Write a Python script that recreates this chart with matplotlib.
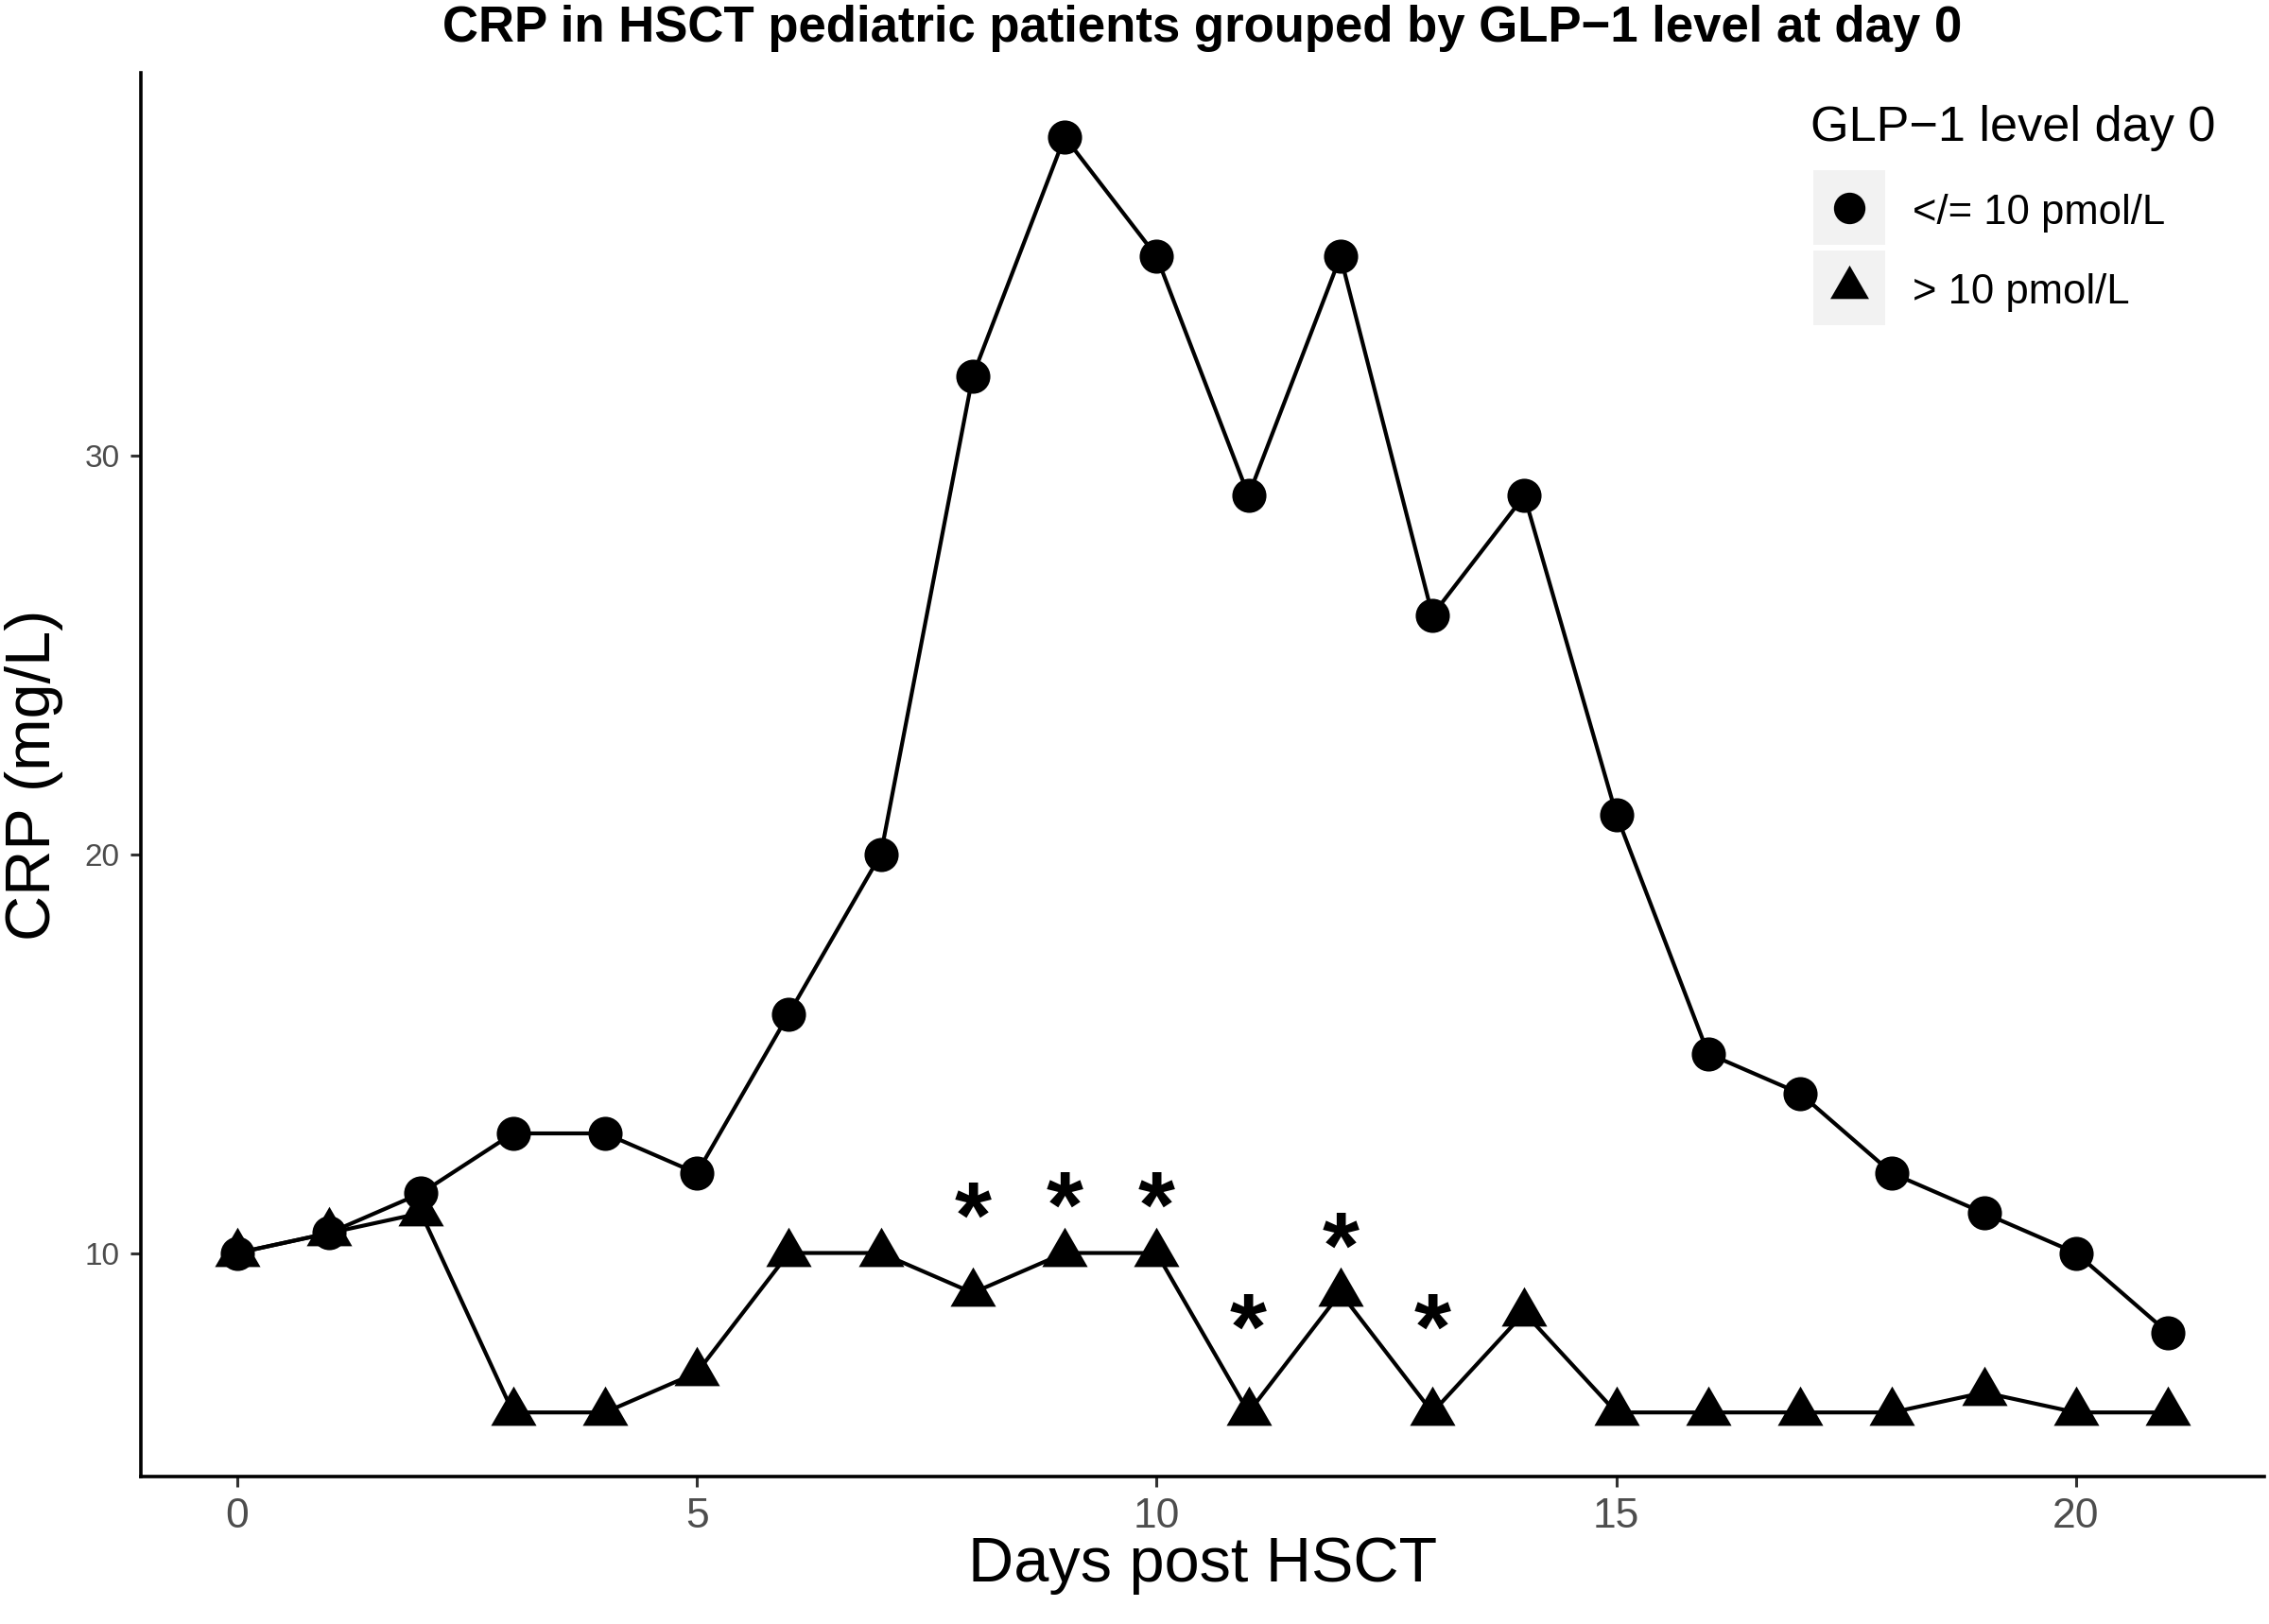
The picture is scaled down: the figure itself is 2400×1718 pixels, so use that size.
import matplotlib.pyplot as plt
from matplotlib.patches import Rectangle
from matplotlib.lines import Line2D

plt.rcParams['font.family'] = ['Liberation Sans', 'DejaVu Sans']

days = list(range(22))
crp_low = [10, 10.5, 11.5, 13, 13, 12, 16, 20, 32, 38, 35, 29, 35, 26, 29, 21, 15, 14, 12, 11, 10, 8]
crp_high = [10, 10.5, 11, 6, 6, 7, 10, 10, 9, 10, 10, 6, 9, 6, 8.5, 6, 6, 6, 6, 6.5, 6, 6]
star_days = [8, 9, 10, 11, 12, 13]
star_y = [11.35, 11.6, 11.6, 8.55, 10.6, 8.55]
legend_labels = ['</= 10 pmol/L', '> 10 pmol/L']

fig = plt.figure(figsize=(12, 8.59), dpi=200)
ax = fig.add_axes([0.062, 0.091, 0.936, 0.864])

tri = (3, 0, 0)
ax.plot(days, crp_high, color='black', lw=1.5, marker=tri, ms=18, zorder=3)
ax.plot(days, crp_low, color='black', lw=1.5, marker='o', ms=12, zorder=3)
star_fs = 36
for d, y in zip(star_days, star_y):
    # shift down so the glyph itself (not its text box) sits at y
    ax.annotate('*', (d, y), xytext=(0, -0.51 * star_fs), textcoords='offset points',
                ha='center', va='baseline', fontsize=star_fs, fontweight='bold')

ax.set_xlim(-1.05, 22.05)
ax.set_ylim(4.4, 39.6)
ax.set_xticks([0, 5, 10, 15, 20])
ax.set_yticks([10, 20, 30])
for s in ['top', 'right']:
    ax.spines[s].set_visible(False)
for s in ['left', 'bottom']:
    ax.spines[s].set_linewidth(1.3)
ax.tick_params(axis='x', length=4, width=1.1, color='#333333', labelsize=16, labelcolor='#4d4d4d', pad=4)
ax.tick_params(axis='y', length=4, width=1.1, color='#333333', labelsize=12, labelcolor='#4d4d4d', pad=4)
ax.set_xlabel('Days post HSCT', fontsize=24, labelpad=0)
ax.set_ylabel('CRP (mg/L)', fontsize=24, labelpad=8)
ax.set_title('CRP in HSCT pediatric patients grouped by GLP\u22121 level at day 0',
             fontsize=19, fontweight='bold', pad=12)

# legend
fig.text(0.798, 0.921, 'GLP\u22121 level day 0', fontsize=18.8, va='center', ha='left')
keys = [(0.872, 'o', 11), (0.823, tri, 15)]
for (yc, m, ms), lab in zip(keys, legend_labels):
    fig.add_artist(Rectangle((0.799, yc - 0.023), 0.032, 0.046, transform=fig.transFigure,
                             facecolor='#f2f2f2', edgecolor='none'))
    fig.add_artist(Line2D([0.815], [yc], marker=m, ms=ms, color='black',
                          transform=fig.transFigure))
    fig.text(0.843, yc - 0.003, lab, fontsize=15.7, va='center', ha='left')

fig.savefig('out.png', dpi=200)
